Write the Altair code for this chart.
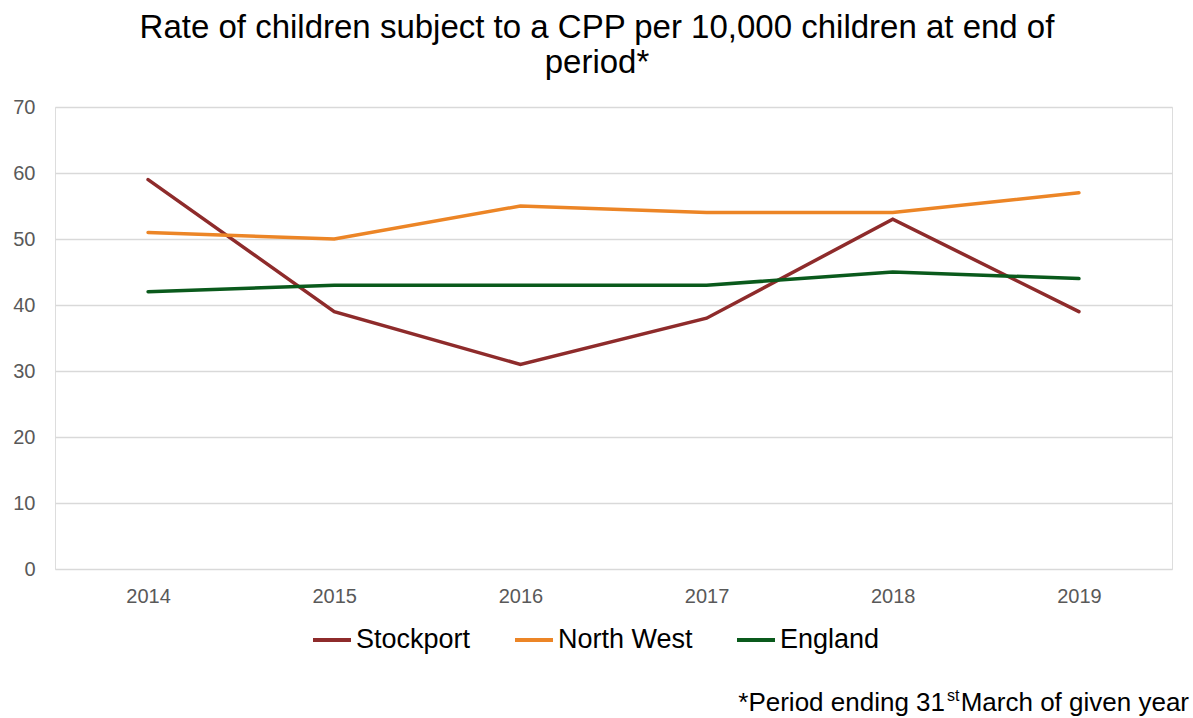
import altair as alt
import pandas as pd

years = ["2014", "2015", "2016", "2017", "2018", "2019"]
stockport = [59, 39, 31, 38, 53, 39]
north_west = [51, 50, 55, 54, 54, 57]
england = [42, 43, 43, 43, 45, 44]
series_names = ["Stockport", "North West", "England"]
series_colors = ["#8E2B2B", "#EC8526", "#0A5A1C"]
y_ticks = [0, 10, 20, 30, 40, 50, 60, 70]
title_lines = ["Rate of children subject to a CPP per 10,000 children at end of", "period*"]

rows = []
for name, vals in zip(series_names, [stockport, north_west, england]):
    for yr, v in zip(years, vals):
        rows.append({"Year": yr, "Series": name, "Rate": v})
df = pd.DataFrame(rows)

FONT = "Liberation Sans"
W, H = 1117, 462

lines = alt.Chart(df).mark_line(strokeWidth=3.5, strokeCap="round").encode(
    x=alt.X("Year:N", sort=years, scale=alt.Scale(type="point", padding=0.5),
            axis=alt.Axis(title=None, labelAngle=0, labelFont=FONT, labelFontSize=20,
                          labelColor="#595959", ticks=False, domain=False, grid=False,
                          labelPadding=17)),
    y=alt.Y("Rate:Q", scale=alt.Scale(domain=[0, 70], nice=False),
            axis=alt.Axis(title=None, values=y_ticks, labelFont=FONT, labelFontSize=20,
                          labelColor="#595959", ticks=False, domain=False,
                          gridColor="#D9D9D9", gridWidth=1.5, labelPadding=20)),
    color=alt.Color("Series:N", sort=series_names,
                    scale=alt.Scale(domain=series_names, range=series_colors),
                    legend=alt.Legend(title=None, orient="none", direction="horizontal",
                                      legendX=256, legendY=512,
                                      symbolType="stroke", symbolSize=1444,
                                      symbolStrokeWidth=4, labelFont=FONT,
                                      labelFontSize=27, labelColor="#000000",
                                      labelOffset=3, columnPadding=36)),
    order=alt.value(0),
)

title_df = pd.DataFrame({"t": title_lines, "i": [0, 1]})
title = alt.Chart(title_df).mark_text(font=FONT, fontSize=33, color="#000000",
                                      align="center", baseline="middle").encode(
    x=alt.value(542),
    y=alt.Y("i:O", scale=alt.Scale(type="point", range=[-79, -44], padding=0), axis=None),
    text="t:N",
)

foot_parts = ["*Period ending 31", "st", "March of given year"]
foot1 = alt.Chart(pd.DataFrame({"t": [foot_parts[0]]})).mark_text(
    font=FONT, fontSize=26, color="#000000", align="right", baseline="middle").encode(
    x=alt.value(890), y=alt.value(596), text="t:N")
foot2 = alt.Chart(pd.DataFrame({"t": [foot_parts[1]]})).mark_text(
    font=FONT, fontSize=16, color="#000000", align="left", baseline="middle").encode(
    x=alt.value(892), y=alt.value(589), text="t:N")
foot3 = alt.Chart(pd.DataFrame({"t": [foot_parts[2]]})).mark_text(
    font=FONT, fontSize=26, color="#000000", align="right", baseline="middle").encode(
    x=alt.value(1134), y=alt.value(596), text="t:N")

chart = alt.layer(lines, title, foot1, foot2, foot3).resolve_scale(y="independent").properties(
    width=W, height=H,
    autosize=alt.AutoSizeParams(type="none"),
    padding={"left": 55, "top": 107, "right": 21, "bottom": 149},
).configure_view(stroke=None).configure(background="#FFFFFF")

chart.save("out.html", embed_options={"renderer": "svg", "actions": False})
